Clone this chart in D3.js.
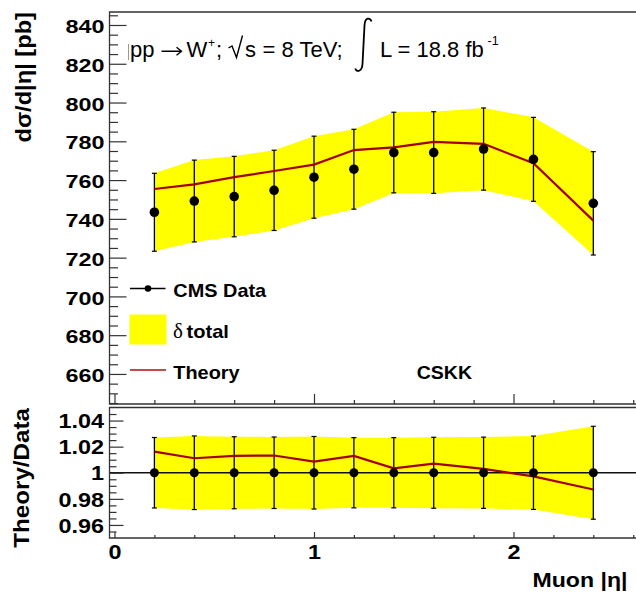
<!DOCTYPE html>
<html><head><meta charset="utf-8">
<script src="https://cdn.jsdelivr.net/npm/d3@7"></script>
<style>body{margin:0;background:#fff}svg{display:block}</style>
</head><body>
<svg id="c" width="636" height="594"></svg>
<script>
// ---------- data ----------
const etaBins     = [0.2, 0.4, 0.6, 0.8, 1.0, 1.2, 1.4, 1.6, 1.85, 2.1, 2.4];
const cmsData     = [743.4, 749.2, 751.5, 754.7, 761.5, 765.6, 774.2, 774.2, 776.0, 770.7, 748.0];
const totalErr    = [20.1, 21.1, 20.75, 20.7, 21.15, 20.6, 20.8, 21.05, 21.2, 21.65, 26.65];
const theory      = [755.4, 757.8, 761.5, 764.7, 768.0, 775.5, 776.9, 779.7, 778.7, 768.7, 739.1];
const ratioTheory = [1.0162, 1.0111, 1.0129, 1.0132, 1.0085, 1.0129, 1.0034, 1.0070, 1.0029, 0.9972, 0.9872];
const ratioErr    = [0.0270, 0.0282, 0.0276, 0.0274, 0.0278, 0.0269, 0.0269, 0.0272, 0.0273, 0.0281, 0.0356];
const ratioData   = [1, 1, 1, 1, 1, 1, 1, 1, 1, 1, 1];

const xMajorTicks = [0, 1, 2];
const xMinorTicks = [0.2, 0.4, 0.6, 0.8, 1.2, 1.4, 1.6, 1.8, 2.2, 2.4, 2.6];
const topMajorTicks = [660, 680, 700, 720, 740, 760, 780, 800, 820, 840];
const topMinorTicks = d3.range(645, 846, 5).filter(v => v % 20 !== 0);
const ratioMajorTicks = [0.96, 0.98, 1.0, 1.02, 1.04];
const ratioTickLabels = ["0.96", "0.98", "1", "1.02", "1.04"];
const ratioMinorTicks = [0.955, 0.965, 0.97, 0.975, 0.985, 0.99, 0.995, 1.005, 1.01, 1.015, 1.025, 1.03, 1.035, 1.045];

const legendLabels = ["CMS Data", "total", "Theory"];

// ---------- layout ----------
const svg = d3.select("#c");
const FONT = "'Liberation Sans', Arial, Helvetica, sans-serif";
const LEFT = 109.5, RIGHT = 640;
const TOP1 = 12, BOT1 = 404, TOP2 = 407.5, BOT2 = 538;

const x = d3.scaleLinear().domain([-0.025, 2.634]).range([LEFT, RIGHT]);
const yTop = d3.scaleLinear().domain([644.5, 846.7]).range([BOT1, TOP1]);
const yBot = d3.scaleLinear().domain([0.95, 1.05]).range([BOT2, TOP2]);

const YELLOW = "#ffff00", RED = "#a30000", FRAME = "#333";

function txt(g, str, px, py, o) {
  o = o || {};
  const t = g.append("text")
    .attr("transform", `translate(${px},${py})` + (o.rot ? ` rotate(${o.rot})` : "") + ` scale(${o.sx || 1},1)`)
    .attr("font-family", o.family || FONT)
    .attr("font-size", o.size || 20)
    .attr("font-weight", o.weight || "bold")
    .attr("text-anchor", o.anchor || "start")
    .attr("fill", o.fill || "#000")
    .text(str);
  return t;
}

// ===== TOP PANEL =====
const gTop = svg.append("g");
gTop.append("path")
  .datum(etaBins.map((e, i) => ({e, v: cmsData[i], err: totalErr[i]})))
  .attr("fill", YELLOW)
  .attr("d", d3.area().x(d => x(d.e)).y0(d => yTop(d.v - d.err)).y1(d => yTop(d.v + d.err)));
etaBins.forEach((e, i) => {
  const cx = x(e), y1 = yTop(cmsData[i] + totalErr[i]), y0 = yTop(cmsData[i] - totalErr[i]);
  gTop.append("line").attr("x1", cx).attr("x2", cx).attr("y1", y1).attr("y2", y0).attr("stroke", "#000").attr("stroke-width", 1.3);
  [y0, y1].forEach(yy => gTop.append("line").attr("x1", cx - 2.5).attr("x2", cx + 2.5).attr("y1", yy).attr("y2", yy).attr("stroke", "#000").attr("stroke-width", 1.2));
});
gTop.append("path")
  .datum(etaBins.map((e, i) => [e, theory[i]]))
  .attr("fill", "none").attr("stroke", RED).attr("stroke-width", 2.2)
  .attr("d", d3.line().x(d => x(d[0])).y(d => yTop(d[1])));
gTop.selectAll("circle.d").data(etaBins).join("circle")
  .attr("cx", d => x(d)).attr("cy", (d, i) => yTop(cmsData[i])).attr("r", 4.8).attr("fill", "#000");

const ayTop = gTop.append("g").attr("transform", `translate(${LEFT},0)`)
  .call(d3.axisLeft(yTop).tickValues(topMajorTicks).tickSize(-17).tickPadding(5).tickFormat(d3.format("d")));
const ayTopMin = gTop.append("g").attr("transform", `translate(${LEFT},0)`)
  .call(d3.axisLeft(yTop).tickValues(topMinorTicks).tickSize(-8.5).tickFormat(""));
const axTop = gTop.append("g").attr("transform", `translate(0,${BOT1})`)
  .call(d3.axisTop(x).tickValues(xMajorTicks).tickSize(10).tickFormat(""));
const axTopMin = gTop.append("g").attr("transform", `translate(0,${BOT1})`)
  .call(d3.axisTop(x).tickValues(xMinorTicks).tickSize(4).tickFormat(""));
[ayTop, ayTopMin, axTop, axTopMin].forEach(a => {
  a.select(".domain").remove();
  a.selectAll("line").attr("stroke", FRAME).attr("stroke-width", 1.2);
});
ayTop.selectAll("text")
  .attr("font-family", FONT).attr("font-size", 19).attr("font-weight", "bold").attr("fill", "#000")
  .attr("x", -5 / 1.23).attr("dy", "0.4em").attr("transform", "scale(1.23,1)");

gTop.append("path").attr("fill", "none").attr("stroke", FRAME).attr("stroke-width", 1.3)
  .attr("d", `M${RIGHT},${TOP1}H${LEFT}V${BOT1}H${RIGHT}`);
gTop.append("line").attr("x1", 128.5).attr("x2", 128.5).attr("y1", 44).attr("y2", 60).attr("stroke", "#999").attr("stroke-width", 1);

// title
const gT = svg.append("g");
const TB = 57.3, TS = 22;
txt(gT, "pp", 130, TB, {size: TS, weight: "normal"});
gT.append("path").attr("fill", "none").attr("stroke", "#000").attr("stroke-width", 1.4)
  .attr("d", "M161.5,51.2H181.5M176.5,47.2L181.5,51.2L176.5,55.2");
txt(gT, "W", 186.5, TB, {size: TS, weight: "normal"});
txt(gT, "+", 208, 47, {size: 12, weight: "normal"});
txt(gT, ";", 216, TB, {size: TS, weight: "normal"});
gT.append("path").attr("fill", "none").attr("stroke", "#000").attr("stroke-width", 1.4)
  .attr("d", "M228.5,48L232,46L236.5,57.5L242.5,35.5");
txt(gT, "s", 245, TB, {size: TS, weight: "normal"});
txt(gT, "= 8 TeV;", 262.5, TB, {size: TS, weight: "normal"});
gT.append("path").attr("fill", "none").attr("stroke", "#000").attr("stroke-width", 1.8)
  .attr("d", "M371.5,21.5C370.5,17.5,365,16.8,364.5,25.5L362.5,64C362,72,356.5,72.5,355.2,68.5");
txt(gT, "L = 18.8 fb", 380, TB, {size: TS, weight: "normal"});
txt(gT, "-1", 487.5, 45, {size: 12.5, weight: "normal"});

// legend
const gL = svg.append("g");
gL.append("line").attr("x1", 130).attr("x2", 165.5).attr("y1", 288.5).attr("y2", 288.5).attr("stroke", "#000").attr("stroke-width", 1.4);
gL.append("circle").attr("cx", 148).attr("cy", 288.5).attr("r", 3.3).attr("fill", "#000");
txt(gL, legendLabels[0], 173.3, 297, {size: 18.6, sx: 1.07});
gL.append("rect").attr("x", 129.5).attr("y", 314.5).attr("width", 37).attr("height", 30).attr("fill", YELLOW);
txt(gL, "δ", 173, 338, {size: 21, weight: "normal", family: "'Liberation Serif', 'Times New Roman', serif"});
txt(gL, legendLabels[1], 186.5, 338, {size: 18.6, sx: 1.08});
gL.append("line").attr("x1", 130).attr("x2", 166).attr("y1", 370).attr("y2", 370).attr("stroke", "#c24a4a").attr("stroke-width", 2);
txt(gL, legendLabels[2], 173.3, 379, {size: 18.6, sx: 1.07});
txt(gL, "CSKK", 416.7, 378.5, {size: 18.6, sx: 1.05});

txt(svg, "dσ/d|η| [pb]", 30.5, 12, {size: 21.5, rot: -90, anchor: "end", sx: 1.1});

// ===== BOTTOM PANEL =====
const gB = svg.append("g");
gB.append("path")
  .datum(etaBins.map((e, i) => ({e, v: ratioData[i], err: ratioErr[i]})))
  .attr("fill", YELLOW)
  .attr("d", d3.area().x(d => x(d.e)).y0(d => yBot(d.v - d.err)).y1(d => yBot(d.v + d.err)));
gB.append("line").attr("x1", LEFT).attr("x2", RIGHT).attr("y1", yBot(1)).attr("y2", yBot(1)).attr("stroke", "#111").attr("stroke-width", 1.3);
etaBins.forEach((e, i) => {
  const cx = x(e), y1 = yBot(ratioData[i] + ratioErr[i]), y0 = yBot(ratioData[i] - ratioErr[i]);
  gB.append("line").attr("x1", cx).attr("x2", cx).attr("y1", y1).attr("y2", y0).attr("stroke", "#000").attr("stroke-width", 1.3);
  [y0, y1].forEach(yy => gB.append("line").attr("x1", cx - 2.5).attr("x2", cx + 2.5).attr("y1", yy).attr("y2", yy).attr("stroke", "#000").attr("stroke-width", 1.2));
});
gB.append("path")
  .datum(etaBins.map((e, i) => [e, ratioTheory[i]]))
  .attr("fill", "none").attr("stroke", RED).attr("stroke-width", 2.2)
  .attr("d", d3.line().x(d => x(d[0])).y(d => yBot(d[1])));
gB.selectAll("circle.r").data(etaBins).join("circle")
  .attr("cx", d => x(d)).attr("cy", (d, i) => yBot(ratioData[i])).attr("r", 4.5).attr("fill", "#000");

const ayBot = gB.append("g").attr("transform", `translate(${LEFT},0)`)
  .call(d3.axisLeft(yBot).tickValues(ratioMajorTicks).tickSize(-14).tickPadding(5.5)
    .tickFormat((d, i) => ratioTickLabels[i]));
const ayBotMin = gB.append("g").attr("transform", `translate(${LEFT},0)`)
  .call(d3.axisLeft(yBot).tickValues(ratioMinorTicks).tickSize(-7).tickFormat(""));
const axBot = gB.append("g").attr("transform", `translate(0,${BOT2})`)
  .call(d3.axisTop(x).tickValues(xMajorTicks).tickSize(6).tickFormat(""));
const axBotMin = gB.append("g").attr("transform", `translate(0,${BOT2})`)
  .call(d3.axisTop(x).tickValues(xMinorTicks).tickSize(3).tickFormat(""));
const axBotLab = gB.append("g").attr("transform", `translate(0,${BOT2})`)
  .call(d3.axisBottom(x).tickValues(xMajorTicks).tickSize(0).tickPadding(7).tickFormat(d3.format("d")));
[ayBot, ayBotMin, axBot, axBotMin, axBotLab].forEach(a => {
  a.select(".domain").remove();
  a.selectAll("line").attr("stroke", FRAME).attr("stroke-width", 1.2);
});
ayBot.selectAll("text")
  .attr("font-family", FONT).attr("font-size", 19.5).attr("font-weight", "bold").attr("fill", "#000")
  .attr("x", -5.5 / 1.2).attr("dy", "0.37em").attr("transform", "scale(1.2,1)");
axBotLab.selectAll("text")
  .attr("font-family", FONT).attr("font-size", 19.5).attr("font-weight", "bold").attr("fill", "#000")
  .attr("transform", "scale(1.2,1)").attr("x", 0);

gB.append("path").attr("fill", "none").attr("stroke", FRAME).attr("stroke-width", 1.3)
  .attr("d", `M${RIGHT},${TOP2}H${LEFT}V${BOT2}H${RIGHT}`);

txt(svg, "Theory/Data", 29, 408, {size: 22, rot: -90, anchor: "end", sx: 1.1});
txt(svg, "Muon |η|", 627.5, 586.5, {size: 21, anchor: "end", sx: 1.1});
</script>
</body></html>
